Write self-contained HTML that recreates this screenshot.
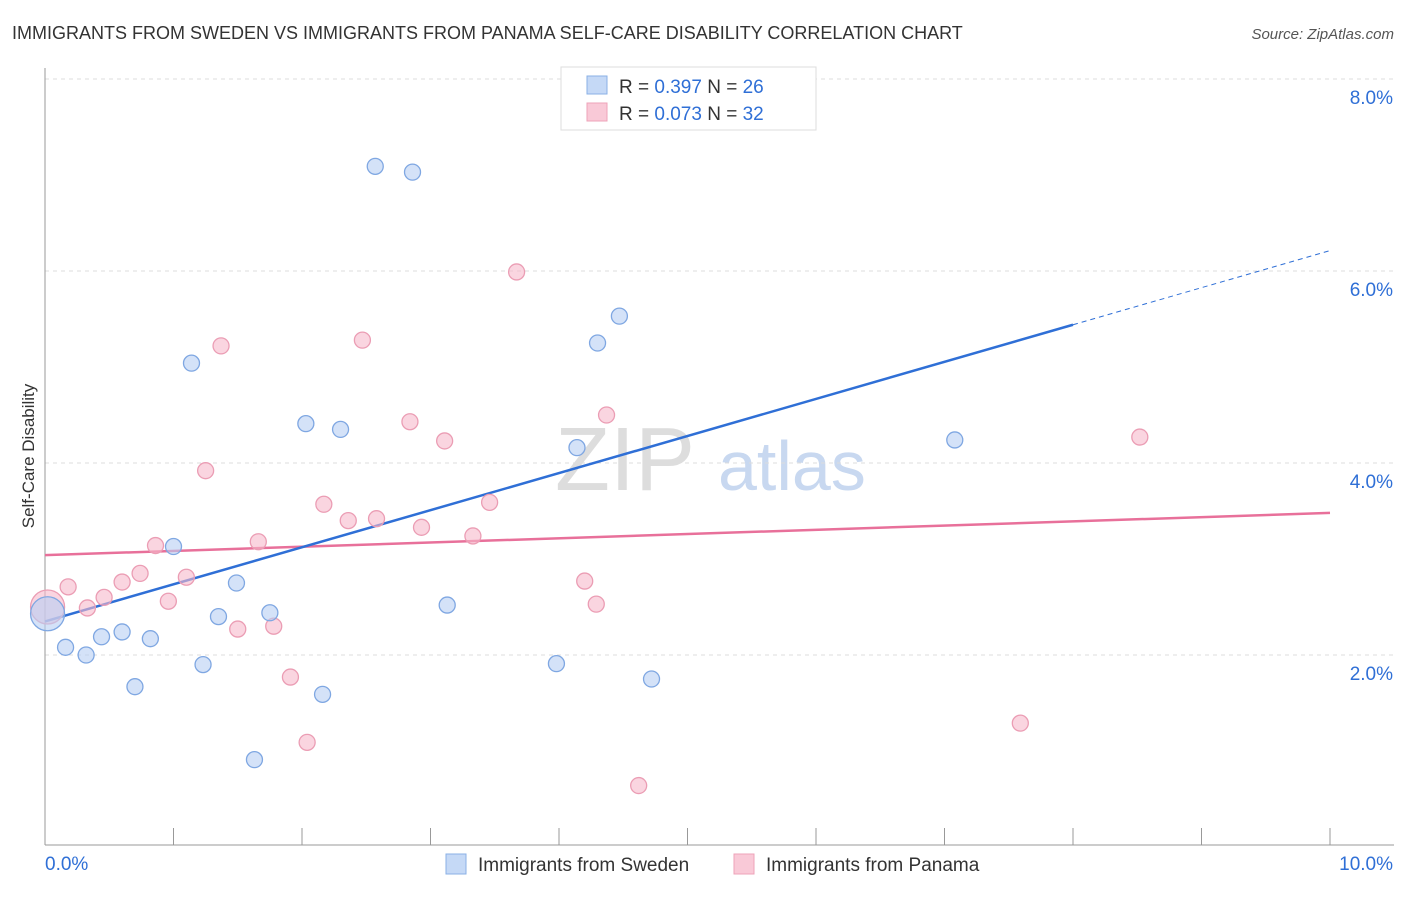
<!DOCTYPE html>
<html><head><meta charset="utf-8"><style>
body{margin:0;background:#fff;font-family:"Liberation Sans",sans-serif;}
svg text{font-family:"Liberation Sans",sans-serif;}
</style></head><body>
<svg id="chart" width="1406" height="892" xmlns="http://www.w3.org/2000/svg">
<text x="12" y="39" font-size="18" fill="#333">IMMIGRANTS FROM SWEDEN VS IMMIGRANTS FROM PANAMA SELF-CARE DISABILITY CORRELATION CHART</text>
<text x="1394" y="39" font-size="15" fill="#555" text-anchor="end" font-style="italic">Source: ZipAtlas.com</text>
<text transform="translate(34,456) rotate(-90)" font-size="17" fill="#333" text-anchor="middle">Self-Care Disability</text>
<g><text x="555" y="490" font-size="90" fill="#ddd" font-family="Liberation Serif">ZIP</text><text x="718" y="490" font-size="70" fill="#c8d8f0">atlas</text></g>
<g id="grid"></g><g id="axes"></g><g id="lines"></g><g id="pts"></g>
<g>
<rect x="561" y="67" width="255" height="63" fill="#fff" stroke="#ddd"/>
<rect x="587" y="76" width="20" height="18" fill="#c5d9f6" stroke="#8ab0e6"/>
<text x="619" y="93" font-size="19" fill="#333">R = <tspan fill="#2f6fd6">0.397</tspan>    N = <tspan fill="#2f6fd6">26</tspan></text>
<rect x="587" y="103" width="20" height="18" fill="#f9c9d7" stroke="#eea3b8"/>
<text x="619" y="120" font-size="19" fill="#333">R = <tspan fill="#2f6fd6">0.073</tspan>    N = <tspan fill="#2f6fd6">32</tspan></text>
</g>
<g>
<rect x="446" y="854" width="20" height="20" fill="#c5d9f6" stroke="#8ab0e6"/>
<text x="478" y="871" font-size="19" fill="#333">Immigrants from Sweden</text>
<rect x="734" y="854" width="20" height="20" fill="#f9c9d7" stroke="#eea3b8"/>
<text x="766" y="871" font-size="19" fill="#333">Immigrants from Panama</text>
</g>
</svg>
<script>
const yTicks=[2,4,6,8];
const xTickLabels=["0.0%","10.0%"];
const swedenX=[0.02,0.16,0.32,0.44,0.60,0.70,0.82,1.0,1.14,1.23,1.35,1.49,1.63,1.75,2.03,2.16,2.30,2.57,2.86,3.13,3.98,4.14,4.30,4.47,4.72,7.08];
const swedenY=[2.43,2.08,2.0,2.19,2.24,1.67,2.17,3.13,5.04,1.90,2.40,2.75,0.91,2.44,4.41,1.59,4.35,7.09,7.03,2.52,1.91,4.16,5.25,5.53,1.75,4.24];
const panamaX=[0.02,0.18,0.33,0.46,0.60,0.74,0.86,0.96,1.10,1.25,1.37,1.50,1.66,1.78,1.91,2.04,2.17,2.36,2.47,2.58,2.84,2.93,3.11,3.33,3.46,3.67,4.20,4.29,4.37,4.62,7.59,8.52];
const panamaY=[2.5,2.71,2.49,2.60,2.76,2.85,3.14,2.56,2.81,3.92,5.22,2.27,3.18,2.30,1.77,1.09,3.57,3.40,5.28,3.42,4.43,3.33,4.23,3.24,3.59,5.99,2.77,2.53,4.50,0.64,1.29,4.27];
const swedenTrend=[2.35,5.44]; // at x=0 and x=8
const panamaTrend=[3.04,3.48]; // at x=0 and x=10
const NS="http://www.w3.org/2000/svg";
const X=v=>45+v*128.5, Y=v=>847-v*96;
function mk(t,a,p){const e=document.createElementNS(NS,t);for(const k in a)e.setAttribute(k,a[k]);p.appendChild(e);return e;}
const grid=document.getElementById('grid'),axes=document.getElementById('axes'),lines=document.getElementById('lines'),pts=document.getElementById('pts');
yTicks.forEach(t=>{
 const l=mk('line',{x1:45,x2:1394,y1:Y(t),y2:Y(t),stroke:'#ddd','stroke-dasharray':'4,4'},grid);
 
 
 const tx=mk('text',{x:1393,y:Y(t)+25,'font-size':19,fill:'#2f6fd6','text-anchor':'end'},grid);
 tx.textContent=t.toFixed(1)+'%';
 
 
});
mk('line',{x1:45,x2:45,y1:68,y2:845,stroke:'#999'},axes);
mk('line',{x1:45,x2:1394,y1:845,y2:845,stroke:'#999'},axes);
for(let i=1;i<=10;i++){const t=mk('line',{x1:X(i),x2:X(i),y1:828,y2:845,stroke:'#999'},axes);
 
 }
const xl0=mk('text',{x:45,y:870,'font-size':19,fill:'#2f6fd6'},axes);xl0.textContent=xTickLabels[0];


const xl1=mk('text',{x:1393,y:870,'font-size':19,fill:'#2f6fd6','text-anchor':'end'},axes);xl1.textContent=xTickLabels[1];


function dot(x,y,big,c){const e=mk('circle',{cx:X(x),cy:Y(y),r:big?17:8,fill:c[0],'fill-opacity':0.6,stroke:c[1],'stroke-width':1.3},pts);return e;}
panamaX.forEach((x,i)=>{const e=dot(x,panamaY[i],i==0,['#f6b9cb','#eb9db4']);
 
 });
swedenX.forEach((x,i)=>{const e=dot(x,swedenY[i],i==0,['#b7cff3','#7fa7e2']);
 
 });
const pl=mk('line',{x1:X(0),y1:Y(panamaTrend[0]),x2:X(10),y2:Y(panamaTrend[1]),stroke:'#e8709a','stroke-width':2.5},lines);


const sl=mk('line',{x1:X(0),y1:Y(swedenTrend[0]),x2:X(8),y2:Y(swedenTrend[1]),stroke:'#2f6fd6','stroke-width':2.5},lines);


const slope=(swedenTrend[1]-swedenTrend[0])/8;
const sd=mk('line',{x1:X(8),y1:Y(swedenTrend[1]),x2:X(10),y2:Y(swedenTrend[0]+slope*10),stroke:'#2f6fd6','stroke-width':1,'stroke-dasharray':'5,4'},lines);


</script>
</body></html>
